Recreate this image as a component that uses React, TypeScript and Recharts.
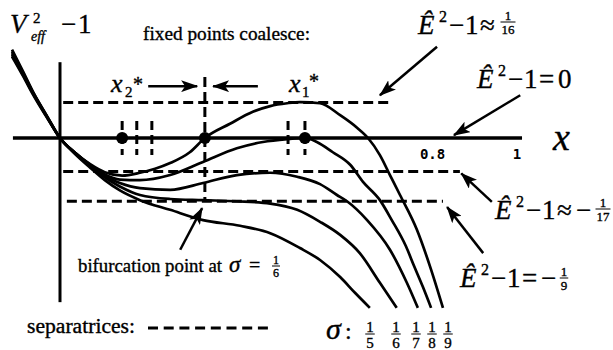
import { LineChart, Line, XAxis, YAxis, ReferenceLine, ReferenceDot } from 'recharts'

type Pair = [number, number]

// V_eff^2 - 1 versus x, one curve per sigma (1/5 ... 1/9)
const sigma5: Pair[] = [
  [-0.105, 0.143], [-0.081, 0.109], [-0.059, 0.076], [-0.028, 0.035], [0, 0],
  [0.033, -0.028], [0.066, -0.052], [0.098, -0.074], [0.131, -0.092], [0.175, -0.109],
  [0.241, -0.126], [0.313, -0.144], [0.394, -0.154], [0.46, -0.167], [0.525, -0.193],
  [0.569, -0.214], [0.613, -0.244], [0.646, -0.272], [0.678, -0.298],
]
const sigma6: Pair[] = [
  [-0.105, 0.146], [-0.081, 0.111], [-0.059, 0.078], [-0.028, 0.036], [0, 0],
  [0.033, -0.027], [0.066, -0.049], [0.098, -0.069], [0.131, -0.085], [0.175, -0.1],
  [0.241, -0.107], [0.313, -0.109], [0.387, -0.111], [0.46, -0.115], [0.519, -0.126],
  [0.569, -0.147], [0.613, -0.17], [0.656, -0.202], [0.7, -0.254], [0.737, -0.298],
]
const sigma7: Pair[] = [
  [-0.105, 0.149], [-0.081, 0.113], [-0.059, 0.079], [-0.028, 0.037], [0, 0],
  [0.033, -0.026], [0.066, -0.048], [0.098, -0.067], [0.131, -0.079], [0.175, -0.088],
  [0.241, -0.091], [0.313, -0.079], [0.387, -0.065], [0.46, -0.061], [0.519, -0.068],
  [0.569, -0.081], [0.606, -0.1], [0.628, -0.111], [0.672, -0.144], [0.722, -0.196],
  [0.759, -0.254], [0.783, -0.298],
]
const sigma8: Pair[] = [
  [-0.105, 0.152], [-0.081, 0.115], [-0.059, 0.08], [-0.028, 0.037], [0, 0],
  [0.033, -0.026], [0.066, -0.047], [0.098, -0.064], [0.131, -0.073], [0.175, -0.074],
  [0.241, -0.065], [0.313, -0.042], [0.387, -0.018], [0.444, -0.007], [0.497, -0.002],
  [0.536, 0], [0.562, -0.007], [0.597, -0.025], [0.635, -0.047], [0.663, -0.077],
  [0.7, -0.109], [0.726, -0.144], [0.757, -0.19], [0.775, -0.225], [0.794, -0.261],
  [0.812, -0.298],
]
const sigma9: Pair[] = [
  [-0.105, 0.155], [-0.081, 0.117], [-0.059, 0.081], [-0.028, 0.038], [0, 0],
  [0.033, -0.026], [0.066, -0.046], [0.098, -0.06], [0.136, -0.066], [0.175, -0.061],
  [0.208, -0.054], [0.241, -0.044], [0.284, -0.025], [0.317, 0], [0.372, 0.025],
  [0.422, 0.046], [0.46, 0.056], [0.497, 0.061], [0.525, 0.063], [0.569, 0.061],
  [0.613, 0.04], [0.65, 0.018], [0.674, 0], [0.7, -0.03], [0.722, -0.065],
  [0.744, -0.1], [0.781, -0.161], [0.81, -0.226], [0.838, -0.298],
]
const curves = [sigma5, sigma6, sigma7, sigma8, sigma9]
const sigmaDenoms = ['5', '6', '7', '8', '9']

// separatrix energy levels and how far each dashed line runs
const separatrixLevels = [1 / 16, -1 / 17, -1 / 9]
const separatrixStart = [0.007, 0.007, 0.015]
const separatrixEnd = [0.729, 0.875, 0.838]
const coalesceX = 0.317
const coalesceTop = 0.107

// fixed points on the axis and the short dashed markers around them
const fixedPoints = [0.136, 0.317, 0.536]
const fixedMarks = [0.136, 0.168, 0.201, 0.499, 0.536]

const xTicks = [0.8, 1]
const xTickLabels = ['0.8', '1']

// annotation arrows: tail -> head
const arrows: [Pair, Pair][] = [
  [[0.193, 0.091], [0.3, 0.091]],
  [[0.433, 0.091], [0.335, 0.091]],
  [[0.825, 0.16], [0.7, 0.075]],
  [[1.007, 0.075], [0.862, 0.005]],
  [[0.945, -0.112], [0.878, -0.062]],
  [[0.926, -0.202], [0.847, -0.121]],
  [[0.263, -0.196], [0.311, -0.123]],
]

const W = 613
const H = 350
const serif = '"Liberation Serif", "Times New Roman", serif'
const toPts = (d: Pair[]) => d.map(([x, y]) => ({ x, y }))

function Frac({ cx, bar, num, den, size }: { cx: number; bar: number; num: string; den: string; size: number }) {
  const w = den.length * size * 0.5 + 2
  return (
    <g>
      <text x={cx} y={bar - 2.5} fontSize={size} textAnchor="middle">{num}</text>
      <line x1={cx - w / 2} x2={cx + w / 2} y1={bar} y2={bar} stroke="#000" strokeWidth={1} />
      <text x={cx} y={bar + size * 0.9} fontSize={size} textAnchor="middle">{den}</text>
    </g>
  )
}

function EnergyLabel({ x, y, op, children }: { x: number; y: number; op: string; children?: React.ReactNode }) {
  return (
    <g>
      <text x={x} y={y} fontSize={27} fontStyle="italic">Ê</text>
      <text x={x + 21} y={y - 12} fontSize={16}>2</text>
      <text x={x + 31} y={y} fontSize={27}>−</text>
      <text x={x + 47} y={y} fontSize={27}>1</text>
      <text x={x + 62} y={y} fontSize={27}>{op}</text>
      {children}
    </g>
  )
}

export default function App() {
  return (
    <div style={{ position: 'absolute', left: 0, top: 0, width: W, height: H, background: '#fff' }}>
      <LineChart width={W} height={H} margin={{ top: 0, right: 0, bottom: 0, left: 0 }}>
        <defs>
          <marker id="arrowHead" viewBox="0 0 17 12" refX={16} refY={6} markerWidth={17} markerHeight={12}
            markerUnits="userSpaceOnUse" orient="auto">
            <path d="M0,0 L17,6 L0,12 L4,6 Z" fill="#000" />
          </marker>
        </defs>
        <XAxis type="number" dataKey="x" domain={[-60 / 457, 553 / 457]} allowDataOverflow hide />
        <YAxis type="number" domain={[-212 / 570, 138 / 570]} allowDataOverflow hide />

        {/* axes through the origin */}
        <ReferenceLine segment={[{ x: -0.103, y: 0 }, { x: 1.011, y: 0 }]} stroke="#000" strokeWidth={3.5} />
        <ReferenceLine segment={[{ x: 0, y: 0.133 }, { x: 0, y: -0.288 }]} stroke="#000" strokeWidth={3} />

        {separatrixLevels.map((lv, i) => (
          <ReferenceLine key={'sep' + i} segment={[{ x: separatrixStart[i], y: lv }, { x: separatrixEnd[i], y: lv }]}
            stroke="#000" strokeWidth={3} strokeDasharray="10 5" />
        ))}
        <ReferenceLine segment={[{ x: coalesceX, y: coalesceTop }, { x: coalesceX, y: -1 / 9 }]}
          stroke="#000" strokeWidth={3} strokeDasharray="10 5" />
        {fixedMarks.map((fx, i) => (
          <ReferenceLine key={'fm' + i} segment={[{ x: fx, y: 0.03 }, { x: fx, y: -0.03 }]}
            stroke="#000" strokeWidth={3} strokeDasharray="9 5" />
        ))}

        {curves.map((c, i) => (
          <Line key={'c' + i} data={toPts(c)} dataKey="y" type="monotone" stroke="#000" strokeWidth={2.7}
            dot={false} activeDot={false} legendType="none" isAnimationActive={false} />
        ))}

        {arrows.map(([a, b], i) => (
          <Line key={'a' + i} data={[{ x: a[0], y: a[1] }, { x: b[0], y: b[1] }]} dataKey="y" type="linear"
            stroke="#000" strokeWidth={2.5} dot={false} activeDot={false} legendType="none"
            isAnimationActive={false} markerEnd="url(#arrowHead)" />
        ))}

        {fixedPoints.map((fx, i) => (
          <ReferenceDot key={'fp' + i} x={fx} y={0} r={6} fill="#000" stroke="none" />
        ))}
        {xTicks.map((t, i) => (
          <ReferenceDot key={'t' + i} x={t} y={0} r={1} fill="none" stroke="none"
            label={{ value: xTickLabels[i], position: 'bottom', offset: 10, dx: i === 0 ? 7 : 0, fill: '#000',
              fontSize: 14, fontWeight: 'bold', fontFamily: '"DejaVu Sans Mono", monospace' }} />
        ))}
      </LineChart>

      <svg width={W} height={H} style={{ position: 'absolute', left: 0, top: 0, pointerEvents: 'none', fontFamily: serif }}
        fill="#000" stroke="#000" strokeWidth={0.35}>
        <text x={10} y={33} fontSize={27} fontStyle="italic">V</text>
        <text x={33} y={23} fontSize={15}>2</text>
        <text x={31} y={41} fontSize={14} fontStyle="italic">eff</text>
        <text x={61} y={33} fontSize={27}>−</text>
        <text x={78} y={33} fontSize={27}>1</text>

        <text x={143} y={40} fontSize={19} textLength={167} lengthAdjust="spacingAndGlyphs">fixed points coalesce:</text>

        <text x={111} y={92} fontSize={26} fontStyle="italic">x</text>
        <text x={125} y={97} fontSize={15}>2</text>
        <text x={133} y={91} fontSize={20}>*</text>
        <text x={289} y={92} fontSize={26} fontStyle="italic">x</text>
        <text x={302} y={97} fontSize={15}>1</text>
        <text x={309} y={88} fontSize={20}>*</text>

        <EnergyLabel x={418} y={34} op="≈">
          <Frac cx={508} bar={22} num="1" den="16" size={13} />
        </EnergyLabel>
        <EnergyLabel x={477} y={88} op="=">
          <text x={558} y={88} fontSize={27}>0</text>
        </EnergyLabel>
        <EnergyLabel x={495} y={219} op="≈">
          <text x={576} y={219} fontSize={27}>−</text>
          <Frac cx={603} bar={209} num="1" den="17" size={13} />
        </EnergyLabel>
        <EnergyLabel x={460} y={287} op="=">
          <text x={541} y={287} fontSize={27}>−</text>
          <Frac cx={564} bar={278} num="1" den="9" size={13} />
        </EnergyLabel>

        <text x={553} y={150} fontSize={38} fontStyle="italic">x</text>

        <text x={78} y={272} fontSize={19} textLength={144} lengthAdjust="spacingAndGlyphs">bifurcation point at</text>
        <text x={229} y={272} fontSize={23} fontStyle="italic">σ</text>
        <text x={249} y={272} fontSize={20}>=</text>
        <Frac cx={276} bar={266} num="1" den="6" size={12} />

        <text x={27} y={333} fontSize={20} textLength={108} lengthAdjust="spacingAndGlyphs">separatrices:</text>
        <line x1={148} x2={272} y1={328} y2={328} stroke="#000" strokeWidth={3} strokeDasharray="10 5.7" />

        <text x={326} y={339} fontSize={30} fontStyle="italic">σ</text>
        <text x={345} y={339} fontSize={24}>:</text>
        {sigmaDenoms.map((d, i) => (
          <Frac key={d} cx={[370, 396, 416, 432, 448][i]} bar={334} num="1" den={d} size={15} />
        ))}
      </svg>
    </div>
  )
}
